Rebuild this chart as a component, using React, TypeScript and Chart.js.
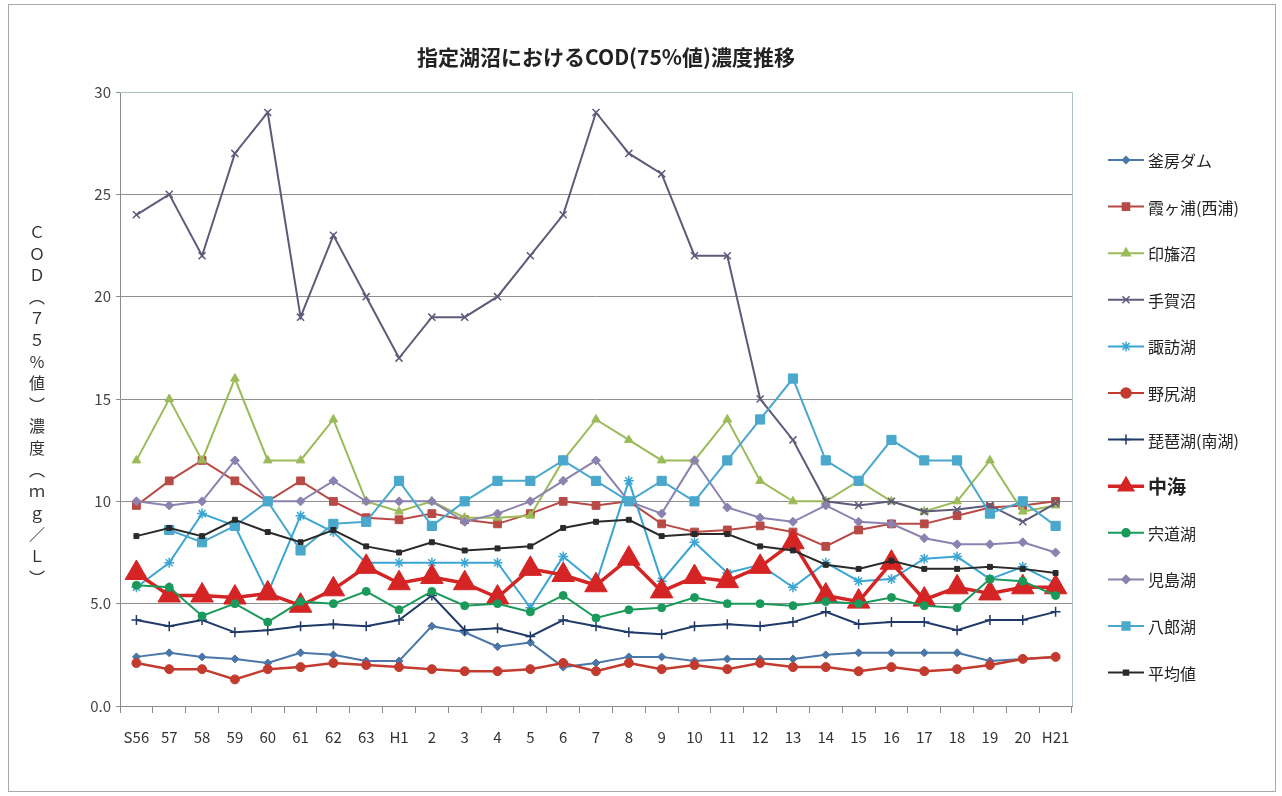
import React, { useEffect, useRef } from "react";
import { Chart, registerables } from "chart.js";
import { drawPoint } from "chart.js/helpers";

Chart.register(...registerables);

const FONT = "'Noto Sans CJK JP', 'Noto Sans', sans-serif";

const categories = ["S56","57","58","59","60","61","62","63","H1","2","3","4","5","6","7","8","9","10","11","12","13","14","15","16","17","18","19","20","H21"];

const kamafusa = [2.4,2.6,2.4,2.3,2.1,2.6,2.5,2.2, 2.2,3.9,3.6,2.9,3.1,1.9,2.1, 2.4,2.4,2.2,2.3,2.3,2.3,2.5, 2.6,2.6,2.6,2.6,2.2,2.3,2.4];
const kasumigaura = [9.8,11,12,11,10,11,10,9.2, 9.1,9.4,9.1,8.9,9.4,10,9.8, 10,8.9,8.5,8.6,8.8,8.5,7.8, 8.6,8.9,8.9,9.3,9.7,9.8,10];
const inba = [12,15,12,16,12,12,14,10, 9.5,10,9.2,9.2,9.3,12,14, 13,12,12,14,11,10,10, 11,10,9.5,10,12,9.5,9.8];
const tega = [24,25,22,27,29,19,23,20, 17,19,19,20,22,24,29, 27,26,22,22,15,13,10, 9.8,10,9.5,9.6,9.8,9.0,9.9];
const suwa = [5.8,7.0,9.4,8.8,5.5,9.3,8.5,7.0, 7.0,7.0,7.0,7.0,4.8,7.3,6.0, 11,6.1,8.0,6.5,6.9,5.8,7.0, 6.1,6.2,7.2,7.3,6.2,6.8,6.0];
const nojiri = [2.1,1.8,1.8,1.3,1.8,1.9,2.1,2.0, 1.9,1.8,1.7,1.7,1.8,2.1,1.7, 2.1,1.8,2.0,1.8,2.1,1.9,1.9, 1.7,1.9,1.7,1.8,2.0,2.3,2.4];
const biwa = [4.2,3.9,4.2,3.6,3.7,3.9,4.0,3.9, 4.2,5.4,3.7,3.8,3.4,4.2,3.9, 3.6,3.5,3.9,4.0,3.9,4.1,4.6, 4.0,4.1,4.1,3.7,4.2,4.2,4.6];
const nakaumi = [6.5,5.4,5.4,5.3,5.5,4.9,5.7,6.8, 6.0,6.3,6.0,5.3,6.7,6.4,5.9, 7.2,5.6,6.3,6.1,6.8,8.0,5.4, 5.1,7.0,5.2,5.8,5.5,5.8,5.8];
const shinji = [5.9,5.8,4.4,5.0,4.1,5.1,5.0,5.6, 4.7,5.6,4.9,5.0,4.6,5.4,4.3, 4.7,4.8,5.3,5.0,5.0,4.9,5.1, 5.0,5.3,4.9,4.8,6.2,6.1,5.4];
const kojima = [10,9.8,10,12,10,10,11,10, 10,10,9.0,9.4,10,11,12, 10,9.4,12,9.7,9.2,9.0,9.8, 9.0,8.9,8.2,7.9,7.9,8.0,7.5];
const hachiro = [null,8.6,8.0,8.8,10,7.6,8.9,9.0, 11,8.8,10,11,11,12,11, 10,11,10,12,14,16,12, 11,13,12,12,9.4,10,8.8];
const heikin = [8.3,8.7,8.3,9.1,8.5,8.0,8.6,7.8, 7.5,8.0,7.6,7.7,7.8,8.7,9.0, 9.1,8.3,8.4,8.4,7.8,7.6,6.9, 6.7,7.1,6.7,6.7,6.8,6.7,6.5];

const seriesNames = ["釜房ダム","霞ヶ浦(西浦)","印旛沼","手賀沼","諏訪湖","野尻湖","琵琶湖(南湖)","中海","宍道湖","児島湖","八郎湖","平均値"];
const seriesData = [kamafusa, kasumigaura, inba, tega, suwa, nojiri, biwa, nakaumi, shinji, kojima, hachiro, heikin];
const seriesColors = ["#4a76a8","#b84a46","#9bbb59","#5e5a7a","#3ba6d3","#c23b2e","#1f3a68","#d42424","#1a9a5a","#8c82b0","#4aa8cc","#2a2a2a"];
const seriesStyles = ["rectRot","rect","triangle","crossRot","star","circle","cross","triangle","circle","rectRot","rect","rect"];
const seriesRadius = [4,5.5,5,5,5,4.5,5,13,4,4.5,6.5,3.5];
const seriesWidth = [2,2,2,2,2,2.5,2,3.5,2,2,2,2];
const legendRadius = [3.5,5,5,5,5,5,5,9,4,4,5.5,3.5];

const yTitleChars = ["Ｃ","Ｏ","Ｄ","︵","７","５","％","値","︶","濃","度","︵","ｍ","ｇ","／","Ｌ","︶"];
const titleText = "指定湖沼におけるCOD(75%値)濃度推移";

const decorPlugin = {
  id: "decor",
  beforeDatasetsDraw(chart: any) {
    const { ctx, chartArea } = chart;
    ctx.save();
    ctx.strokeStyle = "#a9c4c4";
    ctx.lineWidth = 1;
    ctx.beginPath();
    ctx.moveTo(chartArea.left, chartArea.top + 0.5);
    ctx.lineTo(chartArea.right + 0.5, chartArea.top + 0.5);
    ctx.lineTo(chartArea.right + 0.5, chartArea.bottom);
    ctx.stroke();
    ctx.restore();
  },
  afterDraw(chart: any) {
    const { ctx, chartArea } = chart;
    ctx.save();
    // outer frame
    ctx.strokeStyle = "#a8a8a8";
    ctx.lineWidth = 1;
    ctx.strokeRect(8.5, 4.5, 1267, 787);
    // title
    ctx.fillStyle = "#222";
    ctx.font = `bold 21px ${FONT}`;
    ctx.textAlign = "center";
    ctx.textBaseline = "middle";
    ctx.fillText(titleText, (chartArea.left + chartArea.right) / 2 + 10, 57);
    // y title (vertical)
    ctx.font = `16px ${FONT}`;
    ctx.fillStyle = "#333";
    const y0 = 232, step = 21.6;
    yTitleChars.forEach((c, i) => ctx.fillText(c, 37, y0 + i * step));
    // legend
    const lx0 = 1108, lx1 = 1144;
    seriesNames.forEach((name, i) => {
      const y = 160 + i * 46.6;
      ctx.strokeStyle = seriesColors[i];
      ctx.fillStyle = seriesColors[i];
      ctx.lineWidth = i === 7 ? 3.5 : 2;
      ctx.beginPath();
      ctx.moveTo(lx0, y);
      ctx.lineTo(lx1, y);
      ctx.stroke();
      ctx.lineWidth = 1.5;
      drawPoint(ctx, { pointStyle: seriesStyles[i], radius: legendRadius[i], rotation: 0, borderWidth: 1.5 } as any, (lx0 + lx1) / 2, y);
      ctx.fillStyle = "#222";
      ctx.textAlign = "left";
      ctx.font = i === 7 ? `bold 19px ${FONT}` : `16px ${FONT}`;
      ctx.fillText(name, lx1 + 4, y + 1);
    });
    ctx.restore();
  },
};

export default function App() {
  const ref = useRef<HTMLCanvasElement | null>(null);
  useEffect(() => {
    document.body.style.margin = "0";
    if (!ref.current) return;
    const datasets = seriesNames.map((name, i) => ({
      label: name,
      data: seriesData[i],
      borderColor: seriesColors[i],
      backgroundColor: seriesColors[i],
      pointBackgroundColor: seriesColors[i],
      pointBorderColor: seriesColors[i],
      pointStyle: seriesStyles[i],
      pointRadius: seriesRadius[i],
      pointBorderWidth: seriesStyles[i] === "crossRot" || seriesStyles[i] === "cross" || seriesStyles[i] === "star" ? 1.5 : 1,
      borderWidth: seriesWidth[i],
      tension: 0,
      fill: false,
      order: seriesNames.length - i,
    }));
    const chart = new Chart(ref.current, {
      type: "line",
      data: { labels: categories, datasets },
      options: {
        animation: false,
        responsive: true,
        maintainAspectRatio: false,
        layout: { padding: { left: 60, top: 92, right: 210, bottom: 40 } },
        plugins: {
          legend: { display: false },
          title: { display: false },
          tooltip: { enabled: false },
        },
        scales: {
          x: {
            offset: true,
            grid: { offset: true, drawOnChartArea: false, drawTicks: true, tickLength: 7, color: "#8a8a8a" },
            border: { color: "#8a8a8a" },
            ticks: { font: { family: FONT, size: 15 }, color: "#333", padding: 15, maxRotation: 0, autoSkip: false },
            afterFit: (s: any) => { s.height = 50; },
          },
          y: {
            min: 0,
            max: 30,
            ticks: {
              stepSize: 5,
              font: { family: FONT, size: 15 },
              color: "#444",
              padding: 5,
              callback: (v: any) => (v === 5 ? "5.0" : v === 0 ? "0.0" : String(v)),
            },
            grid: { color: "#8f8f8f", tickLength: 4, lineWidth: 1 },
            border: { color: "#8a8a8a" },
            afterFit: (s: any) => { s.width = 60; },
          },
        },
      },
      plugins: [decorPlugin],
    } as any);
    return () => chart.destroy();
  }, []);
  return (
    <div style={{ position: "relative", width: "1282px", height: "796px", background: "#fff" }}>
      <canvas ref={ref} />
    </div>
  );
}
